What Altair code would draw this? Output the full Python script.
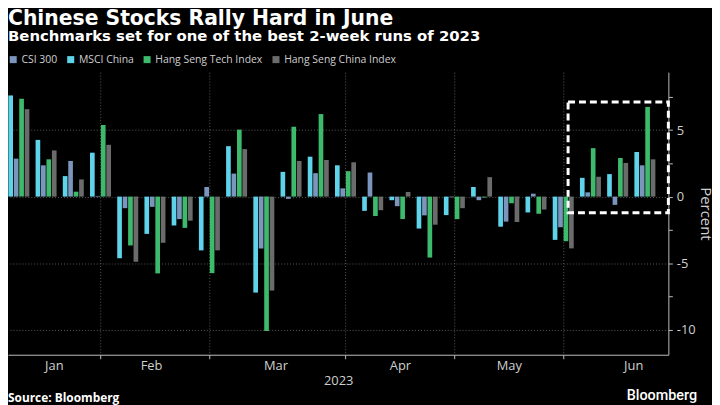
import altair as alt
import pandas as pd

# ---- data ----
weeks = ["2023-01-13", "2023-01-20", "2023-01-27", "2023-02-03", "2023-02-10", "2023-02-17",
         "2023-02-24", "2023-03-03", "2023-03-10", "2023-03-17", "2023-03-24", "2023-03-31",
         "2023-04-07", "2023-04-14", "2023-04-21", "2023-04-28", "2023-05-05", "2023-05-12",
         "2023-05-19", "2023-05-26", "2023-06-02", "2023-06-09", "2023-06-16", "2023-06-23"]

msci_china = [7.6, 4.26, 1.54, 3.3, -4.63, -2.8, -2.17, -4.04, 3.79, -7.21, 1.86, 3.0,
              2.35, -1.07, -0.27, -2.4, -1.39, 0.72, -2.26, -1.19, -3.25, 1.41, 1.69, 3.35]
csi_300 = [2.85, 2.35, 2.68, 0.05, -0.87, -0.77, -1.69, 0.72, 1.73, -3.89, -0.17, 1.76,
           0.62, 1.81, -0.72, -1.41, -0.05, -0.27, -1.88, 0.22, -2.3, 0.32, -0.62, 2.35]
hs_tech = [7.36, 2.8, 0.37, 5.38, -3.67, -5.77, -2.35, -5.75, 5.03, -10.1, 5.25, 6.2,
           1.91, -1.46, -1.69, -4.58, -1.69, -0.07, -0.5, -1.29, -3.35, 3.64, 2.9, 6.74]
hs_china = [6.57, 3.47, 1.29, 3.89, -4.9, -3.47, -1.81, -4.04, 3.57, -7.06, 2.68, 2.75,
            2.58, -1.02, 0.35, -2.11, -0.87, 1.46, -1.91, -0.97, -3.89, 1.49, 2.53, 2.8]

legend_order = ["CSI 300", "MSCI China", "Hang Seng Tech Index", "Hang Seng China Index"]
bar_order = ["MSCI China", "CSI 300", "Hang Seng Tech Index", "Hang Seng China Index"]
colors = ["#7b95bd", "#5fd3ea", "#3dba6c", "#6b6b6b"]

grid_weeks = ["2023-02-03", "2023-03-03", "2023-04-07", "2023-05-05", "2023-06-02"]
month_label_days = ["2023-01-22", "2023-02-16", "2023-03-20", "2023-04-21", "2023-05-19", "2023-06-20"]

y_ticks = [-10, -7.5, -5, -2.5, 0, 2.5, 5, 7.5]

box_start = ["2023-06-03T06:00:00"]
box_top = [7.11]
box_bottom = [-1.21]

# ---- build table ----
series = {"MSCI China": msci_china, "CSI 300": csi_300,
          "Hang Seng Tech Index": hs_tech, "Hang Seng China Index": hs_china}
rows = []
for name, vals in series.items():
    for d, v in zip(weeks, vals):
        rows.append({"week": d + "T00:00:00", "series": name, "value": v,
                     "slot": bar_order.index(name)})
df = pd.DataFrame(rows)


def dt(s, hours=0):
    y, m, d = (int(p) for p in s.split("-"))
    return alt.DateTime(year=y, month=m, date=d, hours=hours)


x_domain = [dt("2023-01-10", 5), dt("2023-06-29", 1)]
font = "Open Sans"
title_font = "DejaVu Sans"
axis_grey = "#bdbdbd"
label_grey = "#cfcfcf"

tick_vals = [dt(s) for s in grid_weeks] + [dt(s) for s in month_label_days]
first_week = "date(datum.value) < 10"

x_axis = alt.Axis(
    values=tick_vals,
    labelExpr="date(datum.value) > 10 ? timeFormat(datum.value, '%b') : ''",
    tickOpacity={"condition": {"test": first_week, "value": 1}, "value": 0},
    gridOpacity={"condition": {"test": first_week, "value": 1}, "value": 0},
    grid=True, gridDash=[1, 2], gridColor="#5a5a5a", gridWidth=1,
    domainColor=axis_grey, tickColor=axis_grey, tickSize=4,
    labelColor=label_grey, labelFont=font, labelFontSize=13, labelPadding=1,
    labelFlush=False, labelOverlap=False,
    title="2023", titleColor=label_grey, titleFont=font, titleFontSize=13,
    titleFontWeight="normal", titlePadding=2,
)

y_axis = alt.Axis(
    orient="right", values=y_ticks,
    labelExpr="datum.value % 5 === 0 ? '' + datum.value : ''",
    gridOpacity={"condition": {"test": "datum.value % 5 === 0", "value": 1}, "value": 0},
    grid=True, gridDash=[1, 2], gridColor="#5a5a5a", gridWidth=1,
    domainColor=axis_grey, tickColor=axis_grey, tickSize=4,
    labelColor=label_grey, labelFont=font, labelFontSize=13, labelPadding=4,
    title="Percent", titleAngle=90, titleColor=label_grey, titleFont=font,
    titleFontSize=15, titleFontWeight="normal", titlePadding=2,
)

day = 86400000
bars = alt.Chart(df).transform_calculate(
    center=f"time(toDate(datum.week)) + (datum.slot - 1.5) * 1.4 * {day}",
).transform_calculate(
    x0=f"datum.center - 0.6 * {day}",
    x1=f"datum.center + 0.6 * {day}",
).mark_rect().encode(
    x=alt.X("x0:T", scale=alt.Scale(domain=x_domain), axis=x_axis),
    x2="x1:T",
    y=alt.Y("value:Q", scale=alt.Scale(domain=[-11.88, 9.35], nice=False, zero=False),
            axis=y_axis),
    y2=alt.datum(0),
    color=alt.Color(
        "series:N",
        scale=alt.Scale(domain=legend_order, range=colors),
        legend=alt.Legend(
            orient="none", legendX=0, legendY=-18, direction="horizontal", columns=4,
            padding=0, title=None, symbolType="square", symbolSize=50, symbolStrokeWidth=0,
            labelColor=label_grey, labelFont=font, labelFontSize=10.5, labelOffset=3,
            columnPadding=8,
        ),
    ),
)

box_df = pd.DataFrame({"start": box_start, "top": box_top, "bottom": box_bottom})
box = alt.Chart(box_df).mark_rect(
    fillOpacity=0, stroke="white", strokeWidth=3, strokeDash=[7, 4]
).encode(
    x="start:T",
    x2=alt.datum(x_domain[1]),
    y="top:Q",
    y2="bottom:Q",
)

src = alt.Chart(pd.DataFrame({"t": ["Source: Bloomberg"]})).mark_text(
    align="left", baseline="middle", font=font, fontSize=12, fontWeight="bold", color="white"
).encode(x=alt.value(0), y=alt.value(329), text="t:N")

brand = alt.Chart(pd.DataFrame({"t": ["Bloomberg"]})).mark_text(
    align="right", baseline="middle", font="Roboto", fontSize=14.5, fontWeight=500, color="white"
).encode(x=alt.value(695), y=alt.value(327), text="t:N")

chart = alt.layer(bars, box, src, brand).properties(
    width=666, height=285,
    autosize=alt.AutoSizeParams(type="none"),
    padding={"left": 0, "top": 63, "right": 44, "bottom": 49},
    title=alt.TitleParams(
        text="Chinese Stocks Rally Hard in June",
        subtitle="Benchmarks set for one of the best 2-week runs of 2023",
        anchor="start", frame="group", font=title_font, fontSize=20.5, fontWeight="bold",
        color="white", subtitleFont=title_font, subtitleFontSize=15, subtitleFontWeight="bold",
        subtitleColor="white", subtitlePadding=0, offset=10,
    ),
).configure(background="black").configure_view(stroke=None)

chart.save("out.html", embed_options={"renderer": "svg", "actions": False})
